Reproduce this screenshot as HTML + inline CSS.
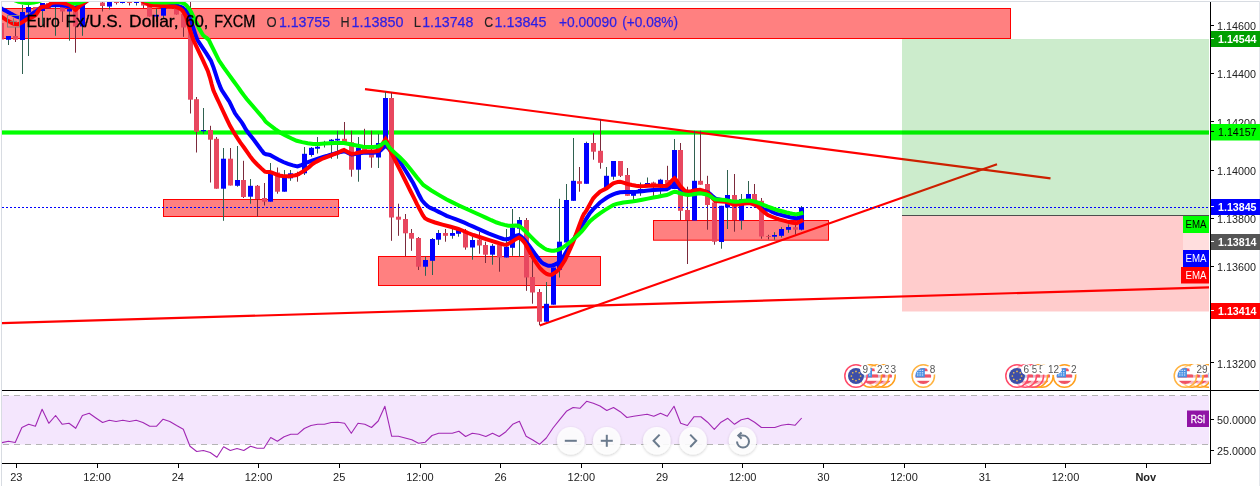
<!DOCTYPE html>
<html lang="en"><head><meta charset="utf-8"><title>EURUSD chart</title>
<style>html,body{margin:0;padding:0;background:#fff;}body{width:1260px;height:486px;overflow:hidden;}svg{display:block;}text{font-family:"Liberation Sans", Arial, sans-serif;}</style></head><body>
<svg width="1260" height="486" viewBox="0 0 1260 486">
<defs>
<clipPath id="pane"><rect x="2" y="2" width="1207" height="388"/></clipPath>
<clipPath id="rsip"><rect x="2" y="391" width="1207" height="72"/></clipPath>
<clipPath id="fc"><circle cx="0" cy="0" r="8"/></clipPath>
<filter id="sh" x="-30%" y="-30%" width="160%" height="160%"><feGaussianBlur in="SourceAlpha" stdDeviation="1.6"/><feOffset dy="1"/><feComponentTransfer><feFuncA type="linear" slope="0.22"/></feComponentTransfer><feMerge><feMergeNode/><feMergeNode in="SourceGraphic"/></feMerge></filter>
<g id="us"><g clip-path="url(#fc)"><rect x="-8" y="-8" width="16" height="16" fill="#fff"/><rect x="-8" y="-8" width="16" height="3.2" fill="#ef5366"/><rect x="-8" y="-1.6" width="16" height="3.2" fill="#ef5366"/><rect x="-8" y="4.8" width="16" height="3.2" fill="#ef5366"/><rect x="-8" y="-8" width="9.5" height="9.4" fill="#4a90e2"/><g fill="#cfe3fa"><rect x="-6.3" y="-6.2" width="1.4" height="1.2"/><rect x="-3.9" y="-6.2" width="1.4" height="1.2"/><rect x="-1.5" y="-6.2" width="1.4" height="1.2"/><rect x="-6.3" y="-3.8" width="1.4" height="1.2"/><rect x="-3.9" y="-3.8" width="1.4" height="1.2"/><rect x="-1.5" y="-3.8" width="1.4" height="1.2"/><rect x="-6.3" y="-1.6" width="1.4" height="1.2"/><rect x="-3.9" y="-1.6" width="1.4" height="1.2"/><rect x="-1.5" y="-1.6" width="1.4" height="1.2"/></g></g></g>
<g id="eu"><circle cx="0" cy="0" r="8" fill="#3c4ea8"/><g fill="#f2c14e"><circle cx="4.60" cy="0.00" r="0.85"/><circle cx="3.25" cy="3.25" r="0.85"/><circle cx="0.00" cy="4.60" r="0.85"/><circle cx="-3.25" cy="3.25" r="0.85"/><circle cx="-4.60" cy="0.00" r="0.85"/><circle cx="-3.25" cy="-3.25" r="0.85"/><circle cx="-0.00" cy="-4.60" r="0.85"/><circle cx="3.25" cy="-3.25" r="0.85"/></g></g>
</defs>
<rect x="0" y="0" width="1260" height="486" fill="#ffffff"/>
<g clip-path="url(#pane)">
<rect x="1.5" y="8.5" width="1009.0" height="30.0" fill="#ff8080" stroke="#ff0000" stroke-width="1"/>
<rect x="163.5" y="199.5" width="175.0" height="17.0" fill="#ff8080" stroke="#ff0000" stroke-width="1"/>
<rect x="378.5" y="256.5" width="222.0" height="29.0" fill="#ff8080" stroke="#ff0000" stroke-width="1"/>
<rect x="653.5" y="220.5" width="175.0" height="19.7" fill="#ff8080" stroke="#ff0000" stroke-width="1"/>
<rect x="2" y="130.4" width="1207" height="4.2" fill="#00ff00"/>
<line x1="365" y1="89.15" x2="1050.5" y2="178.4" stroke="#ff0000" stroke-width="2.1"/>
<line x1="0" y1="323.2" x2="1209" y2="287.4" stroke="#ff0000" stroke-width="2.1"/>
<line x1="539.7" y1="325.5" x2="997" y2="164.2" stroke="#ff0000" stroke-width="2.1"/>
<rect x="902" y="39" width="307" height="176" fill="#00a000" fill-opacity="0.2"/>
<rect x="902" y="215" width="307" height="96.5" fill="#ff0000" fill-opacity="0.2"/>
<rect x="902" y="215" width="307" height="1" fill="#4d4d4d"/>
<rect x="1" y="23.0" width="1" height="16.5" fill="#7b2a3b"/>
<rect x="-1" y="23.0" width="5" height="16.5" fill="#e8475f"/>
<rect x="8" y="36.0" width="1" height="9.0" fill="#2f6150"/>
<rect x="6" y="36.0" width="5" height="3.8" fill="#0000ff"/>
<rect x="15" y="27.0" width="1" height="15.0" fill="#7b2a3b"/>
<rect x="13" y="36.0" width="5" height="3.7" fill="#e8475f"/>
<rect x="22" y="5.0" width="1" height="69.0" fill="#2f6150"/>
<rect x="20" y="12.0" width="5" height="28.0" fill="#0000ff"/>
<rect x="28" y="4.0" width="1" height="52.0" fill="#2f6150"/>
<rect x="26" y="7.0" width="5" height="5.5" fill="#0000ff"/>
<rect x="35" y="7.0" width="1" height="3.7" fill="#7b2a3b"/>
<rect x="33" y="7.0" width="5" height="3.7" fill="#e8475f"/>
<rect x="42" y="3.0" width="1" height="22.0" fill="#2f6150"/>
<rect x="40" y="3.0" width="5" height="8.0" fill="#0000ff"/>
<rect x="48" y="3.0" width="1" height="5.0" fill="#7b2a3b"/>
<rect x="46" y="3.0" width="5" height="5.0" fill="#e8475f"/>
<rect x="55" y="2.0" width="1" height="33.8" fill="#2f6150"/>
<rect x="53" y="2.0" width="5" height="2.0" fill="#0000ff"/>
<rect x="62" y="5.0" width="1" height="17.0" fill="#7b2a3b"/>
<rect x="60" y="6.5" width="5" height="5.0" fill="#e8475f"/>
<rect x="69" y="8.0" width="1" height="32.7" fill="#2f6150"/>
<rect x="67" y="9.0" width="5" height="2.5" fill="#0000ff"/>
<rect x="75" y="8.0" width="1" height="44.7" fill="#7b2a3b"/>
<rect x="73" y="8.0" width="5" height="18.5" fill="#e8475f"/>
<rect x="82" y="3.0" width="1" height="32.8" fill="#2f6150"/>
<rect x="80" y="4.0" width="5" height="22.5" fill="#0000ff"/>
<rect x="102" y="2.0" width="1" height="9.5" fill="#7b2a3b"/>
<rect x="100" y="2.5" width="5" height="3.5" fill="#e8475f"/>
<rect x="109" y="2.0" width="1" height="7.5" fill="#2f6150"/>
<rect x="107" y="2.0" width="5" height="4.6" fill="#0000ff"/>
<rect x="116" y="2.0" width="1" height="2.5" fill="#7b2a3b"/>
<rect x="114" y="2.0" width="5" height="1.0" fill="#e8475f"/>
<rect x="122" y="2.0" width="1" height="1.5" fill="#2f6150"/>
<rect x="120" y="2.0" width="5" height="1.0" fill="#0000ff"/>
<rect x="129" y="2.0" width="1" height="3.5" fill="#7b2a3b"/>
<rect x="127" y="2.0" width="5" height="1.0" fill="#e8475f"/>
<rect x="136" y="2.0" width="1" height="3.5" fill="#2f6150"/>
<rect x="134" y="2.0" width="5" height="1.0" fill="#0000ff"/>
<rect x="143" y="2.0" width="1" height="6.0" fill="#7b2a3b"/>
<rect x="141" y="2.0" width="5" height="3.5" fill="#e8475f"/>
<rect x="149" y="4.0" width="1" height="12.5" fill="#7b2a3b"/>
<rect x="147" y="5.0" width="5" height="11.5" fill="#e8475f"/>
<rect x="156" y="8.7" width="1" height="13.3" fill="#2f6150"/>
<rect x="154" y="14.9" width="5" height="1.6" fill="#0000ff"/>
<rect x="163" y="7.0" width="1" height="11.0" fill="#2f6150"/>
<rect x="161" y="7.4" width="5" height="8.3" fill="#0000ff"/>
<rect x="169" y="7.4" width="1" height="1.1" fill="#7b2a3b"/>
<rect x="167" y="7.4" width="5" height="1.1" fill="#e8475f"/>
<rect x="176" y="8.0" width="1" height="6.5" fill="#7b2a3b"/>
<rect x="174" y="8.0" width="5" height="6.5" fill="#e8475f"/>
<rect x="183" y="14.0" width="1" height="22.8" fill="#7b2a3b"/>
<rect x="181" y="14.0" width="5" height="13.5" fill="#e8475f"/>
<rect x="190" y="2.0" width="1" height="111.5" fill="#7b2a3b"/>
<rect x="188" y="11.0" width="5" height="88.7" fill="#e8475f"/>
<rect x="196" y="97.0" width="1" height="55.5" fill="#7b2a3b"/>
<rect x="194" y="99.2" width="5" height="32.5" fill="#e8475f"/>
<rect x="203" y="108.0" width="1" height="25.7" fill="#2f6150"/>
<rect x="201" y="130.0" width="5" height="1.3" fill="#0000ff"/>
<rect x="210" y="125.8" width="1" height="56.7" fill="#7b2a3b"/>
<rect x="208" y="130.0" width="5" height="9.7" fill="#e8475f"/>
<rect x="216" y="137.0" width="1" height="51.7" fill="#7b2a3b"/>
<rect x="214" y="138.8" width="5" height="49.9" fill="#e8475f"/>
<rect x="223" y="148.0" width="1" height="72.8" fill="#2f6150"/>
<rect x="221" y="158.7" width="5" height="30.0" fill="#0000ff"/>
<rect x="230" y="148.0" width="1" height="37.5" fill="#7b2a3b"/>
<rect x="228" y="158.7" width="5" height="26.8" fill="#e8475f"/>
<rect x="237" y="146.0" width="1" height="40.7" fill="#2f6150"/>
<rect x="235" y="180.0" width="5" height="5.8" fill="#0000ff"/>
<rect x="243" y="160.8" width="1" height="37.2" fill="#7b2a3b"/>
<rect x="241" y="180.0" width="5" height="17.0" fill="#e8475f"/>
<rect x="250" y="179.0" width="1" height="24.7" fill="#2f6150"/>
<rect x="248" y="185.8" width="5" height="10.9" fill="#0000ff"/>
<rect x="257" y="185.0" width="1" height="31.7" fill="#7b2a3b"/>
<rect x="255" y="185.8" width="5" height="13.2" fill="#e8475f"/>
<rect x="264" y="183.0" width="1" height="22.5" fill="#7b2a3b"/>
<rect x="262" y="198.0" width="5" height="3.7" fill="#e8475f"/>
<rect x="270" y="163.0" width="1" height="38.7" fill="#2f6150"/>
<rect x="268" y="173.0" width="5" height="28.7" fill="#0000ff"/>
<rect x="277" y="167.5" width="1" height="26.2" fill="#7b2a3b"/>
<rect x="275" y="172.5" width="5" height="19.2" fill="#e8475f"/>
<rect x="284" y="170.0" width="1" height="21.7" fill="#2f6150"/>
<rect x="282" y="177.5" width="5" height="14.2" fill="#0000ff"/>
<rect x="290" y="170.0" width="1" height="10.8" fill="#2f6150"/>
<rect x="288" y="173.3" width="5" height="5.0" fill="#0000ff"/>
<rect x="297" y="171.7" width="1" height="10.0" fill="#7b2a3b"/>
<rect x="295" y="173.0" width="5" height="3.0" fill="#e8475f"/>
<rect x="304" y="147.0" width="1" height="28.0" fill="#2f6150"/>
<rect x="302" y="153.8" width="5" height="19.5" fill="#0000ff"/>
<rect x="311" y="147.0" width="1" height="9.7" fill="#2f6150"/>
<rect x="309" y="147.8" width="5" height="7.2" fill="#0000ff"/>
<rect x="317" y="137.0" width="1" height="16.5" fill="#2f6150"/>
<rect x="315" y="146.7" width="5" height="2.0" fill="#0000ff"/>
<rect x="324" y="140.8" width="1" height="6.7" fill="#2f6150"/>
<rect x="322" y="143.5" width="5" height="1.0" fill="#0000ff"/>
<rect x="331" y="139.0" width="1" height="19.7" fill="#2f6150"/>
<rect x="329" y="139.7" width="5" height="1.6" fill="#0000ff"/>
<rect x="337" y="130.8" width="1" height="27.9" fill="#2f6150"/>
<rect x="335" y="138.8" width="5" height="1.7" fill="#0000ff"/>
<rect x="344" y="122.0" width="1" height="20.0" fill="#7b2a3b"/>
<rect x="342" y="138.8" width="5" height="3.2" fill="#e8475f"/>
<rect x="351" y="130.8" width="1" height="45.9" fill="#7b2a3b"/>
<rect x="349" y="142.2" width="5" height="27.5" fill="#e8475f"/>
<rect x="358" y="137.0" width="1" height="44.7" fill="#2f6150"/>
<rect x="356" y="147.5" width="5" height="22.2" fill="#0000ff"/>
<rect x="364" y="128.8" width="1" height="23.2" fill="#7b2a3b"/>
<rect x="362" y="148.0" width="5" height="2.0" fill="#e8475f"/>
<rect x="371" y="130.8" width="1" height="37.0" fill="#7b2a3b"/>
<rect x="369" y="154.0" width="5" height="3.5" fill="#e8475f"/>
<rect x="378" y="134.0" width="1" height="34.0" fill="#2f6150"/>
<rect x="376" y="143.0" width="5" height="14.5" fill="#0000ff"/>
<rect x="385" y="91.7" width="1" height="51.3" fill="#2f6150"/>
<rect x="383" y="98.0" width="5" height="45.0" fill="#0000ff"/>
<rect x="391" y="92.5" width="1" height="148.3" fill="#7b2a3b"/>
<rect x="389" y="98.0" width="5" height="119.5" fill="#e8475f"/>
<rect x="398" y="203.7" width="1" height="32.1" fill="#7b2a3b"/>
<rect x="396" y="216.7" width="5" height="3.0" fill="#e8475f"/>
<rect x="405" y="214.0" width="1" height="42.0" fill="#7b2a3b"/>
<rect x="403" y="219.0" width="5" height="14.3" fill="#e8475f"/>
<rect x="411" y="229.0" width="1" height="21.8" fill="#7b2a3b"/>
<rect x="409" y="233.0" width="5" height="5.7" fill="#e8475f"/>
<rect x="418" y="237.0" width="1" height="33.0" fill="#7b2a3b"/>
<rect x="416" y="238.0" width="5" height="28.7" fill="#e8475f"/>
<rect x="425" y="256.7" width="1" height="19.1" fill="#2f6150"/>
<rect x="423" y="260.0" width="5" height="6.7" fill="#0000ff"/>
<rect x="432" y="238.0" width="1" height="37.0" fill="#2f6150"/>
<rect x="430" y="239.0" width="5" height="21.8" fill="#0000ff"/>
<rect x="438" y="230.0" width="1" height="15.0" fill="#2f6150"/>
<rect x="436" y="233.0" width="5" height="6.7" fill="#0000ff"/>
<rect x="445" y="229.0" width="1" height="12.7" fill="#7b2a3b"/>
<rect x="443" y="233.0" width="5" height="2.8" fill="#e8475f"/>
<rect x="452" y="226.7" width="1" height="12.0" fill="#2f6150"/>
<rect x="450" y="233.0" width="5" height="2.8" fill="#0000ff"/>
<rect x="458" y="229.0" width="1" height="7.7" fill="#2f6150"/>
<rect x="456" y="230.0" width="5" height="3.8" fill="#0000ff"/>
<rect x="465" y="229.0" width="1" height="20.7" fill="#7b2a3b"/>
<rect x="463" y="230.8" width="5" height="16.7" fill="#e8475f"/>
<rect x="472" y="236.7" width="1" height="23.0" fill="#2f6150"/>
<rect x="470" y="240.0" width="5" height="7.5" fill="#0000ff"/>
<rect x="479" y="231.7" width="1" height="22.0" fill="#7b2a3b"/>
<rect x="477" y="239.7" width="5" height="5.8" fill="#e8475f"/>
<rect x="485" y="241.7" width="1" height="21.3" fill="#7b2a3b"/>
<rect x="483" y="245.0" width="5" height="9.7" fill="#e8475f"/>
<rect x="492" y="244.0" width="1" height="20.7" fill="#2f6150"/>
<rect x="490" y="245.8" width="5" height="8.9" fill="#0000ff"/>
<rect x="499" y="243.0" width="1" height="28.7" fill="#7b2a3b"/>
<rect x="497" y="245.0" width="5" height="12.5" fill="#e8475f"/>
<rect x="506" y="229.0" width="1" height="28.5" fill="#2f6150"/>
<rect x="504" y="246.7" width="5" height="10.8" fill="#0000ff"/>
<rect x="512" y="209.0" width="1" height="46.8" fill="#2f6150"/>
<rect x="510" y="227.5" width="5" height="20.3" fill="#0000ff"/>
<rect x="519" y="217.0" width="1" height="39.7" fill="#2f6150"/>
<rect x="517" y="220.0" width="5" height="8.7" fill="#0000ff"/>
<rect x="526" y="218.0" width="1" height="72.8" fill="#7b2a3b"/>
<rect x="524" y="220.0" width="5" height="57.5" fill="#e8475f"/>
<rect x="532" y="257.5" width="1" height="46.2" fill="#7b2a3b"/>
<rect x="530" y="277.0" width="5" height="15.5" fill="#e8475f"/>
<rect x="539" y="289.0" width="1" height="36.0" fill="#7b2a3b"/>
<rect x="537" y="292.0" width="5" height="29.7" fill="#e8475f"/>
<rect x="546" y="282.0" width="1" height="39.7" fill="#2f6150"/>
<rect x="544" y="303.8" width="5" height="17.9" fill="#0000ff"/>
<rect x="553" y="267.5" width="1" height="37.2" fill="#2f6150"/>
<rect x="551" y="267.5" width="5" height="37.2" fill="#0000ff"/>
<rect x="559" y="198.8" width="1" height="78.7" fill="#2f6150"/>
<rect x="557" y="241.7" width="5" height="28.0" fill="#0000ff"/>
<rect x="566" y="184.0" width="1" height="58.5" fill="#2f6150"/>
<rect x="564" y="200.0" width="5" height="42.5" fill="#0000ff"/>
<rect x="573" y="138.0" width="1" height="62.8" fill="#2f6150"/>
<rect x="571" y="180.8" width="5" height="20.0" fill="#0000ff"/>
<rect x="579" y="167.0" width="1" height="24.7" fill="#7b2a3b"/>
<rect x="577" y="181.2" width="5" height="2.6" fill="#e8475f"/>
<rect x="586" y="141.7" width="1" height="42.1" fill="#2f6150"/>
<rect x="584" y="143.0" width="5" height="40.8" fill="#0000ff"/>
<rect x="593" y="133.0" width="1" height="26.7" fill="#7b2a3b"/>
<rect x="591" y="143.0" width="5" height="8.7" fill="#e8475f"/>
<rect x="600" y="119.0" width="1" height="49.7" fill="#7b2a3b"/>
<rect x="598" y="150.8" width="5" height="12.0" fill="#e8475f"/>
<rect x="606" y="167.0" width="1" height="21.3" fill="#2f6150"/>
<rect x="604" y="175.8" width="5" height="12.5" fill="#0000ff"/>
<rect x="613" y="161.0" width="1" height="18.7" fill="#2f6150"/>
<rect x="611" y="161.0" width="5" height="15.7" fill="#0000ff"/>
<rect x="620" y="161.0" width="1" height="16.0" fill="#7b2a3b"/>
<rect x="618" y="161.0" width="5" height="14.8" fill="#e8475f"/>
<rect x="627" y="168.0" width="1" height="27.8" fill="#7b2a3b"/>
<rect x="625" y="175.0" width="5" height="20.8" fill="#e8475f"/>
<rect x="633" y="190.0" width="1" height="10.0" fill="#2f6150"/>
<rect x="631" y="190.0" width="5" height="5.8" fill="#0000ff"/>
<rect x="640" y="182.5" width="1" height="13.3" fill="#2f6150"/>
<rect x="638" y="189.0" width="5" height="3.0" fill="#0000ff"/>
<rect x="647" y="177.5" width="1" height="8.0" fill="#2f6150"/>
<rect x="645" y="183.0" width="5" height="2.5" fill="#0000ff"/>
<rect x="653" y="181.7" width="1" height="15.0" fill="#7b2a3b"/>
<rect x="651" y="182.5" width="5" height="3.5" fill="#e8475f"/>
<rect x="660" y="178.8" width="1" height="15.9" fill="#2f6150"/>
<rect x="658" y="179.7" width="5" height="6.3" fill="#0000ff"/>
<rect x="667" y="165.8" width="1" height="22.2" fill="#7b2a3b"/>
<rect x="665" y="180.0" width="5" height="8.0" fill="#e8475f"/>
<rect x="674" y="139.0" width="1" height="50.0" fill="#2f6150"/>
<rect x="672" y="150.0" width="5" height="39.0" fill="#0000ff"/>
<rect x="680" y="143.0" width="1" height="77.0" fill="#7b2a3b"/>
<rect x="678" y="150.0" width="5" height="60.8" fill="#e8475f"/>
<rect x="687" y="186.7" width="1" height="77.3" fill="#7b2a3b"/>
<rect x="685" y="210.0" width="5" height="10.0" fill="#e8475f"/>
<rect x="694" y="130.8" width="1" height="89.7" fill="#2f6150"/>
<rect x="692" y="180.8" width="5" height="39.7" fill="#0000ff"/>
<rect x="700" y="130.8" width="1" height="53.9" fill="#7b2a3b"/>
<rect x="698" y="180.8" width="5" height="3.9" fill="#e8475f"/>
<rect x="707" y="175.8" width="1" height="53.9" fill="#7b2a3b"/>
<rect x="705" y="184.0" width="5" height="21.0" fill="#e8475f"/>
<rect x="714" y="202.0" width="1" height="42.7" fill="#7b2a3b"/>
<rect x="712" y="202.5" width="5" height="39.2" fill="#e8475f"/>
<rect x="721" y="205.8" width="1" height="42.9" fill="#2f6150"/>
<rect x="719" y="205.8" width="5" height="36.2" fill="#0000ff"/>
<rect x="727" y="170.0" width="1" height="59.0" fill="#2f6150"/>
<rect x="725" y="195.0" width="5" height="12.5" fill="#0000ff"/>
<rect x="734" y="174.0" width="1" height="57.7" fill="#7b2a3b"/>
<rect x="732" y="195.0" width="5" height="25.0" fill="#e8475f"/>
<rect x="741" y="194.0" width="1" height="35.7" fill="#2f6150"/>
<rect x="739" y="199.0" width="5" height="21.5" fill="#0000ff"/>
<rect x="748" y="181.0" width="1" height="19.0" fill="#2f6150"/>
<rect x="746" y="194.0" width="5" height="6.0" fill="#0000ff"/>
<rect x="754" y="184.0" width="1" height="22.0" fill="#7b2a3b"/>
<rect x="752" y="194.0" width="5" height="12.0" fill="#e8475f"/>
<rect x="761" y="198.0" width="1" height="40.7" fill="#7b2a3b"/>
<rect x="759" y="200.8" width="5" height="35.7" fill="#e8475f"/>
<rect x="768" y="234.8" width="1" height="4.6" fill="#7b2a3b"/>
<rect x="766" y="236.0" width="5" height="1.0" fill="#e8475f"/>
<rect x="774" y="232.2" width="1" height="7.5" fill="#2f6150"/>
<rect x="772" y="235.0" width="5" height="1.7" fill="#0000ff"/>
<rect x="781" y="227.2" width="1" height="10.3" fill="#2f6150"/>
<rect x="779" y="229.0" width="5" height="6.8" fill="#0000ff"/>
<rect x="788" y="224.4" width="1" height="8.4" fill="#2f6150"/>
<rect x="786" y="227.0" width="5" height="2.8" fill="#0000ff"/>
<rect x="795" y="225.0" width="1" height="9.4" fill="#7b2a3b"/>
<rect x="793" y="227.2" width="5" height="2.5" fill="#e8475f"/>
<rect x="801" y="206.0" width="1" height="24.5" fill="#2f6150"/>
<rect x="799" y="207.4" width="5" height="22.3" fill="#0000ff"/>
<line x1="2" y1="207.5" x2="1209" y2="207.5" stroke="#0000ff" stroke-width="1" stroke-dasharray="2 2"/>
<polyline points="0.0,7.8 0.6,8.1 1.3,8.4 2.2,8.9 4.1,9.9 6.2,11.1 8.3,12.2 10.2,13.3 12.1,14.3 13.9,15.3 15.4,16.0 16.8,16.6 18.3,17.2 20.1,17.6 22.1,17.9 24.0,18.0 26.0,17.3 28.1,16.4 30.0,15.5 31.1,14.7 32.1,13.9 33.0,13.2 34.0,12.6 35.0,12.1 36.0,11.5 36.9,10.8 37.7,10.2 38.5,9.5 39.3,8.9 40.1,8.3 41.0,7.8 42.0,7.4 43.0,7.1 44.0,6.8 45.2,6.6 46.5,6.4 47.8,6.2 48.9,5.9 49.9,5.5 51.0,5.2 52.6,5.2 54.3,5.2 56.0,5.2 57.9,5.2 59.9,5.2 62.0,5.3 64.6,5.7 67.4,6.1 70.0,6.5 71.8,6.9 73.4,7.3 75.0,7.5 76.4,7.1 77.6,6.6 79.0,6.0 80.6,5.1 82.4,4.0 84.0,3.0 85.4,2.0 86.8,1.0 88.0,0.0 88.8,-0.7 89.4,-1.4 90.0,-2.0" fill="none" stroke="#0000ff" stroke-width="4.0" stroke-linejoin="miter" stroke-miterlimit="3" stroke-linecap="butt"/>
<polyline points="140.0,-2.0 141.1,-1.1 142.5,-0.0 144.0,1.0 145.9,1.7 147.8,2.4 150.0,3.0 153.2,3.5 156.6,4.0 160.0,4.5 163.4,4.7 166.7,4.8 170.0,5.0 172.8,5.3 175.5,5.6 178.0,6.0 179.8,6.6 181.4,7.2 183.0,8.0 184.4,9.2 185.7,10.6 187.0,12.0 188.0,13.9 189.0,15.9 190.0,18.0 191.0,20.8 191.9,23.8 193.0,27.0 194.3,31.0 195.6,35.3 197.5,40.0 201.8,46.6 206.5,53.6 210.9,60.6 213.6,67.6 215.9,74.6 218.0,81.0 219.3,84.4 220.4,87.1 221.7,90.0 224.2,93.8 226.8,97.8 229.4,101.7 231.3,105.6 233.1,109.5 235.0,113.3 237.2,116.4 239.5,119.4 241.7,122.3 243.4,125.1 245.0,127.9 246.7,130.8 249.0,133.8 251.4,136.8 254.0,140.0 257.3,144.5 260.8,149.2 264.0,153.3 266.0,154.2 267.8,154.5 270.0,155.0 274.1,157.2 278.7,159.7 283.3,162.0 288.1,163.8 292.9,165.4 297.5,166.5 300.6,165.5 303.5,164.0 306.7,162.5 312.1,160.7 318.0,158.7 323.3,157.0 325.8,156.2 327.7,155.7 330.0,155.0 334.5,153.7 339.4,152.3 344.0,151.3 346.7,152.2 349.1,153.5 351.7,154.5 355.3,154.1 359.0,153.4 363.0,152.8 368.0,152.7 373.2,152.7 378.0,152.3 380.8,150.2 383.2,147.8 385.5,146.0 387.1,146.9 388.5,148.4 390.0,150.0 392.0,151.8 394.1,153.7 396.7,156.7 402.0,165.0 407.9,174.4 413.3,183.3 416.4,189.4 419.1,195.0 421.7,200.0 424.0,202.7 426.1,204.8 428.3,206.7 430.4,207.9 432.6,208.9 435.0,210.0 438.7,211.9 442.6,213.8 446.7,215.8 451.1,217.5 455.5,219.1 460.0,220.8 464.4,222.7 468.8,224.7 473.3,226.7 478.2,228.9 483.3,231.1 488.3,233.3 493.5,235.3 498.7,237.3 503.3,239.0 505.2,239.3 506.6,239.3 508.3,239.0 511.7,237.6 515.4,236.0 519.0,235.0 521.7,237.0 524.2,239.6 526.7,242.5 529.5,246.2 532.3,250.2 535.0,254.0 537.3,257.0 539.5,259.9 541.7,262.5 543.9,263.9 546.1,264.9 548.3,265.8 550.2,265.7 552.1,265.5 554.0,265.0 556.2,263.9 558.5,262.6 560.8,260.8 563.2,257.1 565.6,252.9 568.3,248.3 572.1,242.1 576.1,235.4 580.0,229.0 583.4,223.4 586.7,218.1 590.0,213.0 593.3,209.2 596.7,205.8 600.0,202.5 603.3,200.1 606.7,197.8 610.0,195.8 613.2,194.4 616.4,193.2 620.0,192.2 625.3,191.9 631.0,191.9 636.7,191.7 642.3,191.2 647.9,190.6 653.3,190.0 658.0,189.8 662.5,189.6 666.7,189.2 669.5,187.7 672.0,186.1 674.5,185.0 677.5,186.6 680.5,188.8 683.3,190.8 685.0,191.6 686.5,192.1 688.3,192.5 692.0,192.0 696.1,191.3 700.0,190.8 702.9,191.2 705.7,191.7 708.3,192.5 710.5,194.3 712.7,196.4 715.0,198.3 718.2,199.3 721.6,200.0 725.0,200.8 728.3,201.7 731.5,202.6 735.0,203.3 739.4,203.1 744.0,202.7 748.3,202.5 751.3,203.2 754.0,204.0 756.7,205.0 759.6,206.7 762.4,208.5 765.0,210.0 766.1,209.9 766.9,209.6 767.8,209.4 769.5,210.3 771.4,211.4 773.3,212.5 775.1,213.2 776.9,213.8 779.0,214.4 782.5,215.3 786.4,216.3 790.0,217.2 792.4,217.7 794.5,218.1 796.7,218.3 799.0,217.8 801.3,217.2 803.3,216.7" fill="none" stroke="#0000ff" stroke-width="4.0" stroke-linejoin="miter" stroke-miterlimit="3" stroke-linecap="butt"/>
<polyline points="0.0,16.0 0.6,16.3 1.3,16.7 2.2,17.2 4.1,18.4 6.2,19.8 8.3,21.1 10.2,22.1 12.1,23.1 13.9,23.9 15.4,24.1 16.9,24.2 18.3,24.2 19.6,23.6 20.9,22.9 22.2,22.2 23.7,21.3 25.2,20.3 26.7,19.4 28.2,18.8 29.6,18.4 31.1,17.8 32.6,17.0 34.1,16.0 35.6,15.0 36.8,13.4 37.9,11.6 38.9,10.0 39.7,8.9 40.3,8.0 41.1,7.2 42.2,7.0 43.3,6.8 44.4,6.7 45.5,6.5 46.7,6.4 47.8,6.1 48.9,5.2 50.0,4.2 51.1,3.3 52.1,2.9 53.2,2.7 54.4,2.5 56.5,2.5 58.8,2.6 61.1,2.8 63.1,3.1 64.9,3.5 66.7,3.9 67.9,4.3 69.0,4.7 70.0,5.2 71.0,5.9 72.0,6.7 73.0,7.5 73.9,8.4 74.7,9.3 75.5,10.0 76.3,9.4 77.1,8.4 78.0,7.5 79.0,6.7 80.0,5.8 81.0,5.0 82.0,4.3 83.0,3.7 84.0,3.0 85.0,2.4 86.0,1.7 87.0,1.0 88.1,-0.0 89.1,-1.1 90.0,-2.0" fill="none" stroke="#ff0000" stroke-width="4.0" stroke-linejoin="miter" stroke-miterlimit="3" stroke-linecap="butt"/>
<polyline points="138.0,-2.0 139.7,-0.8 141.8,0.6 143.8,2.0 145.7,3.1 147.6,4.1 149.6,5.0 152.2,5.4 155.0,5.6 157.8,5.8 160.5,5.9 163.3,5.9 166.0,6.0 168.9,6.2 171.7,6.4 174.4,6.6 176.2,7.1 177.8,7.7 179.3,8.3 180.5,9.0 181.5,9.8 182.6,10.7 183.7,12.5 184.9,14.4 186.0,16.5 186.8,19.2 187.6,22.0 188.4,24.8 189.3,27.6 190.1,30.3 191.0,33.0 191.6,34.9 192.2,36.8 193.4,40.0 197.9,49.6 203.1,60.6 207.8,70.9 210.0,77.8 211.6,84.1 213.3,90.0 215.1,94.2 216.9,98.1 219.0,102.5 222.5,110.0 226.3,118.2 230.0,125.8 233.0,131.0 235.9,135.7 238.6,140.0 240.4,142.6 242.1,144.9 244.0,147.5 246.9,151.7 250.0,156.1 253.3,160.5 257.2,164.5 261.3,168.4 265.0,171.7 266.8,172.1 268.3,172.0 270.0,172.0 273.2,173.2 276.6,174.6 280.0,175.8 282.8,176.1 285.6,176.3 288.3,176.3 291.1,176.0 293.8,175.6 296.7,175.0 300.0,173.2 303.5,171.1 306.7,169.0 309.0,167.1 311.1,165.3 313.3,163.5 316.0,161.9 318.9,160.4 321.7,159.0 324.5,157.9 327.2,156.8 330.0,155.8 332.8,154.7 335.6,153.6 338.3,152.5 340.3,151.5 342.1,150.6 344.0,150.0 346.4,151.2 349.0,152.8 351.7,154.0 355.4,153.4 359.2,152.5 363.3,151.7 368.3,151.6 373.5,151.5 378.3,150.8 381.1,146.9 383.4,142.4 385.5,139.0 386.8,141.2 387.9,144.6 389.0,148.0 390.3,150.6 391.6,153.3 393.3,156.7 397.0,164.0 401.1,172.2 405.0,180.0 407.9,185.9 410.7,191.5 413.3,196.7 415.3,200.7 417.1,204.4 419.0,208.0 420.9,211.6 422.8,215.1 425.0,218.3 427.9,219.9 431.1,221.1 435.0,222.5 442.4,224.6 450.6,226.8 458.3,229.0 463.5,231.0 468.1,233.0 473.3,235.0 481.0,237.5 489.2,240.2 496.7,242.5 500.5,243.6 503.5,244.4 506.7,244.7 510.8,242.4 515.1,239.6 519.0,237.5 521.2,238.8 523.0,240.8 525.0,243.3 527.7,248.1 530.5,253.3 533.3,258.3 535.6,261.9 537.8,265.2 540.0,268.3 542.3,270.5 544.5,272.4 546.7,274.0 548.4,274.5 550.0,274.8 551.7,274.7 553.8,273.4 556.1,271.9 558.3,270.0 560.5,267.0 562.7,263.7 565.0,260.0 567.7,254.3 570.5,248.2 573.3,241.7 576.4,233.3 579.6,224.5 582.5,216.7 584.0,213.9 585.3,212.1 586.7,210.0 588.8,206.2 591.1,202.1 593.3,198.3 595.5,195.9 597.8,193.7 600.0,191.7 602.2,190.5 604.5,189.4 606.7,188.3 608.9,186.6 611.1,184.9 613.3,183.3 615.5,182.6 617.7,182.0 620.0,181.7 622.6,182.4 625.4,183.3 628.3,184.2 632.0,185.0 636.0,185.7 640.0,186.3 644.4,186.1 648.8,185.8 653.3,185.5 657.9,185.7 662.4,186.0 666.7,185.8 669.6,183.3 672.1,180.4 674.5,178.3 676.4,180.3 678.2,183.1 680.0,185.8 682.1,188.0 684.2,190.1 686.7,191.7 691.0,191.2 695.6,190.3 700.0,189.7 703.0,190.6 705.7,191.9 708.3,193.3 710.5,195.8 712.7,198.5 715.0,200.8 718.2,201.3 721.6,201.4 725.0,201.7 728.3,202.7 731.5,203.8 735.0,204.7 739.6,204.2 744.5,203.5 749.0,203.0 751.8,203.6 754.3,204.5 756.7,205.5 758.6,207.1 760.4,208.8 762.2,210.5 764.0,212.0 765.7,213.5 767.8,215.0 771.3,216.5 775.2,218.0 779.0,219.4 782.8,220.4 786.5,221.4 790.0,222.2 792.4,222.7 794.5,223.1 796.7,223.3 799.0,222.3 801.3,221.1 803.3,220.0" fill="none" stroke="#ff0000" stroke-width="4.0" stroke-linejoin="miter" stroke-miterlimit="3" stroke-linecap="butt"/>
<polyline points="10.0,-2.0 10.9,-1.5 11.9,-0.9 13.0,-0.3 14.3,0.2 15.6,0.7 17.0,1.2 18.6,1.7 20.3,2.1 22.0,2.5 24.0,2.7 26.0,2.9 28.0,3.0 30.0,2.9 32.0,2.7 34.0,2.5 35.7,2.1 37.4,1.7 39.0,1.2 40.2,0.7 41.4,0.2 42.5,-0.3 43.7,-0.9 45.0,-1.5 46.0,-2.0" fill="none" stroke="#00ff00" stroke-width="4.0" stroke-linejoin="miter" stroke-miterlimit="3" stroke-linecap="butt"/>
<polyline points="63.0,-1.6 64.2,-1.1 65.6,-0.5 67.2,0.2 69.8,1.4 72.6,2.8 75.5,3.7 79.3,2.8 83.2,1.4 86.7,0.2 88.2,-0.4 89.2,-0.8 90.0,-1.2" fill="none" stroke="#00ff00" stroke-width="4.0" stroke-linejoin="miter" stroke-miterlimit="3" stroke-linecap="butt"/>
<polyline points="141.0,-2.0 142.1,-1.2 143.4,-0.4 145.0,0.5 147.7,1.1 150.6,1.7 153.7,2.2 157.7,2.3 161.8,2.4 166.0,2.4 170.3,2.3 174.6,2.2 178.5,2.2 180.3,2.4 181.7,2.7 183.0,3.0 184.2,3.7 185.4,4.6 186.5,5.5 187.7,6.9 188.8,8.3 190.0,10.0 191.3,12.5 192.6,15.2 194.0,18.0 195.7,21.5 197.5,25.1 199.2,28.5 200.6,31.0 201.9,33.3 203.3,35.5 205.0,36.8 206.8,38.0 208.8,40.0 211.9,46.3 215.4,53.4 219.0,60.6 223.8,67.6 228.9,74.6 233.5,81.0 236.0,84.4 238.0,87.2 240.0,90.0 242.0,92.8 244.1,95.6 246.7,99.0 252.1,105.3 258.1,112.2 263.3,118.3 264.6,120.1 265.2,121.0 266.4,122.3 270.5,125.5 275.2,129.1 280.0,132.5 285.5,135.4 291.1,138.3 296.7,140.8 302.2,142.1 307.8,143.2 313.3,144.0 318.9,143.9 324.5,143.6 330.0,143.3 334.7,143.1 339.2,142.9 344.0,143.0 350.2,144.2 356.7,145.5 363.0,146.7 368.3,146.9 373.4,146.9 378.0,146.6 380.8,145.0 383.2,143.2 385.5,142.0 386.9,143.6 388.2,145.7 390.0,148.3 394.6,152.6 399.7,157.3 405.0,162.5 410.9,169.8 417.0,177.6 423.3,185.0 431.0,190.2 439.1,195.1 446.7,199.5 452.5,202.4 457.9,205.0 463.3,207.5 468.9,210.0 474.4,212.5 480.0,215.0 485.7,217.6 491.3,220.2 496.7,222.5 500.8,223.8 504.6,224.9 508.3,225.8 512.0,225.8 515.6,225.6 519.0,225.8 521.6,227.7 524.0,230.0 526.7,232.5 530.5,236.3 534.5,240.3 538.3,244.0 541.2,246.2 544.0,248.1 546.7,249.7 549.2,250.3 551.6,250.7 554.0,250.8 556.5,250.2 559.0,249.4 561.7,248.3 564.9,246.0 568.3,243.5 571.7,240.8 575.1,237.8 578.4,234.7 581.7,231.5 584.5,228.1 587.2,224.6 590.0,221.2 593.2,218.5 596.5,215.9 600.0,213.3 604.4,210.4 608.9,207.6 613.3,205.0 616.7,203.9 619.9,203.2 623.3,202.5 627.6,201.9 632.1,201.4 636.7,200.8 642.2,199.7 647.8,198.6 653.3,197.5 658.0,196.7 662.5,195.8 666.7,195.0 669.6,193.8 672.1,192.6 674.5,191.7 676.4,192.0 678.1,192.7 680.0,193.3 682.6,193.9 685.4,194.6 688.3,195.0 692.1,194.5 696.2,193.8 700.0,193.3 702.9,193.7 705.7,194.3 708.3,195.0 710.5,196.4 712.7,197.9 715.0,199.2 718.2,199.6 721.6,199.8 725.0,200.0 728.3,200.6 731.5,201.2 735.0,201.7 739.6,201.4 744.5,200.8 749.0,200.5 751.7,200.9 754.1,201.5 756.7,202.2 760.3,203.6 764.0,205.2 767.8,206.7 771.5,208.0 775.3,209.3 779.0,210.5 782.8,211.5 786.5,212.5 790.0,213.3 792.4,213.7 794.5,214.0 796.7,214.2 799.0,213.8 801.3,213.3 803.3,212.8" fill="none" stroke="#00ff00" stroke-width="4.0" stroke-linejoin="miter" stroke-miterlimit="3" stroke-linecap="butt"/>
<line x1="902" y1="207.5" x2="1209" y2="207.5" stroke="#0000ff" stroke-width="1" stroke-dasharray="2 2" stroke-dashoffset="0"/>
<g transform="translate(1208.0,376)">
<circle cx="0" cy="0" r="11.2" fill="#ffffff" fill-opacity="0.55" stroke="#ff9f1c" stroke-width="1.5"/>
<use href="#us"/>
</g>
<g transform="translate(1200.0,376)">
<circle cx="0" cy="0" r="11.2" fill="#ffffff" fill-opacity="0.55" stroke="#ff9f1c" stroke-width="1.5"/>
<use href="#us"/>
</g>
<g transform="translate(1192.0,376)">
<circle cx="0" cy="0" r="11.2" fill="#ffffff" fill-opacity="0.55" stroke="#ff9f1c" stroke-width="1.5"/>
<use href="#us"/>
</g>
<g transform="translate(1185.4,376)">
<circle cx="0" cy="0" r="11.2" fill="#ffffff" fill-opacity="0.55" stroke="#ffb340" stroke-width="1.5"/>
<use href="#us"/>
</g>
<g transform="translate(1064.5,376)">
<circle cx="0" cy="0" r="11.2" fill="#ffffff" fill-opacity="0.55" stroke="#ff9f1c" stroke-width="1.5"/>
<use href="#us"/>
</g>
<g transform="translate(1042.0,376)">
<circle cx="0" cy="0" r="11.2" fill="#ffffff" fill-opacity="0.55" stroke="#ff9f1c" stroke-width="1.5"/>
<use href="#us"/>
</g>
<g transform="translate(1036.5,376)">
<circle cx="0" cy="0" r="11.2" fill="#ffffff" fill-opacity="0.55" stroke="#ff9f1c" stroke-width="1.5"/>
<use href="#us"/>
</g>
<g transform="translate(1032.4,376)">
<circle cx="0" cy="0" r="11.2" fill="#ffffff" fill-opacity="0.55" stroke="#ff4a68" stroke-width="1.5"/>
<use href="#us"/>
</g>
<g transform="translate(1025.3,376)">
<circle cx="0" cy="0" r="11.2" fill="#ffffff" fill-opacity="0.55" stroke="#ff4a68" stroke-width="1.5"/>
<use href="#us"/>
</g>
<g transform="translate(1017.0,376)">
<circle cx="0" cy="0" r="11.2" fill="#ffffff" fill-opacity="0.55" stroke="#ff4a68" stroke-width="1.5"/>
<use href="#eu"/>
</g>
<g transform="translate(923.3,376)">
<circle cx="0" cy="0" r="11.2" fill="#ffffff" fill-opacity="0.55" stroke="#ffb340" stroke-width="1.5"/>
<use href="#us"/>
</g>
<g transform="translate(884.0,376)">
<circle cx="0" cy="0" r="11.2" fill="#ffffff" fill-opacity="0.55" stroke="#ff9f1c" stroke-width="1.5"/>
<use href="#us"/>
</g>
<g transform="translate(877.7,376)">
<circle cx="0" cy="0" r="11.2" fill="#ffffff" fill-opacity="0.55" stroke="#ff9f1c" stroke-width="1.5"/>
<use href="#us"/>
</g>
<g transform="translate(870.5,376)">
<circle cx="0" cy="0" r="11.2" fill="#ffffff" fill-opacity="0.55" stroke="#ff9f1c" stroke-width="1.5"/>
<use href="#us"/>
</g>
<g transform="translate(856.0,376)">
<circle cx="0" cy="0" r="11.2" fill="#ffffff" fill-opacity="0.55" stroke="#ff4a68" stroke-width="1.5"/>
<use href="#eu"/>
</g>
<g transform="translate(856.0,376)">
<ellipse cx="9.3" cy="-6.6" rx="5.2" ry="5.5" fill="#ffffff"/>
<text x="9.3" y="-3.0" font-size="10" fill="#555555" text-anchor="middle">9</text>
</g>
<g transform="translate(870.5,376)">
<ellipse cx="9.3" cy="-6.6" rx="5.2" ry="5.5" fill="#ffffff"/>
<text x="9.3" y="-3.0" font-size="10" fill="#555555" text-anchor="middle">2</text>
</g>
<g transform="translate(877.7,376)">
<ellipse cx="9.3" cy="-6.6" rx="5.2" ry="5.5" fill="#ffffff"/>
<text x="9.3" y="-3.0" font-size="10" fill="#555555" text-anchor="middle">3</text>
</g>
<g transform="translate(884.0,376)">
<ellipse cx="9.3" cy="-6.6" rx="5.2" ry="5.5" fill="#ffffff"/>
<text x="9.3" y="-3.0" font-size="10" fill="#555555" text-anchor="middle">3</text>
</g>
<g transform="translate(923.3,376)">
<ellipse cx="9.3" cy="-6.6" rx="5.2" ry="5.5" fill="#ffffff"/>
<text x="9.3" y="-3.0" font-size="10" fill="#555555" text-anchor="middle">8</text>
</g>
<g transform="translate(1017.0,376)">
<ellipse cx="9.3" cy="-6.6" rx="5.2" ry="5.5" fill="#ffffff"/>
<text x="9.3" y="-3.0" font-size="10" fill="#555555" text-anchor="middle">6</text>
</g>
<g transform="translate(1025.3,376)">
<ellipse cx="9.3" cy="-6.6" rx="5.2" ry="5.5" fill="#ffffff"/>
<text x="9.3" y="-3.0" font-size="10" fill="#555555" text-anchor="middle">5</text>
</g>
<g transform="translate(1032.4,376)">
<ellipse cx="9.3" cy="-6.6" rx="5.2" ry="5.5" fill="#ffffff"/>
<text x="9.3" y="-3.0" font-size="10" fill="#555555" text-anchor="middle">5</text>
</g>
<g transform="translate(1036.5,376)">
<ellipse cx="9.5" cy="-6.6" rx="5.2" ry="5.5" fill="#ffffff"/>
</g>
<g transform="translate(1042.0,376)">
<ellipse cx="11.5" cy="-6.6" rx="8.2" ry="5.5" fill="#ffffff"/>
<text x="11.5" y="-3.0" font-size="10" fill="#555555" text-anchor="middle">12</text>
</g>
<g transform="translate(1064.5,376)">
<ellipse cx="9.3" cy="-6.6" rx="5.2" ry="5.5" fill="#ffffff"/>
<text x="9.3" y="-3.0" font-size="10" fill="#555555" text-anchor="middle">2</text>
</g>
<g transform="translate(1185.4,376)">
<ellipse cx="9.3" cy="-6.6" rx="5.2" ry="5.5" fill="#ffffff"/>
</g>
<g transform="translate(1192.0,376)">
<ellipse cx="10.0" cy="-6.6" rx="8.2" ry="5.5" fill="#ffffff"/>
<text x="10.0" y="-3.0" font-size="10" fill="#555555" text-anchor="middle">29</text>
</g>
<rect x="1183" y="233" width="26" height="17" fill="#ffffff" fill-opacity="0.35"/>
<rect x="1183" y="216" width="26" height="17" fill="#00ff00"/>
<text x="1196" y="227.6" font-size="11" fill="#000000" text-anchor="middle" textLength="21" lengthAdjust="spacingAndGlyphs">EMA</text>
<rect x="1183" y="250" width="26" height="17" fill="#0000ff"/>
<text x="1196" y="261.5" font-size="11" fill="#ffffff" text-anchor="middle" textLength="21" lengthAdjust="spacingAndGlyphs">EMA</text>
<rect x="1181" y="267" width="28" height="16.5" fill="#ff0000"/>
<text x="1196" y="278.8" font-size="11" fill="#ffffff" text-anchor="middle" textLength="21" lengthAdjust="spacingAndGlyphs">EMA</text>
</g>
<g clip-path="url(#rsip)">
<rect x="2" y="395.5" width="1207" height="49" fill="#f4e6fd"/>
<line x1="2" y1="395.5" x2="1209" y2="395.5" stroke="#b4b4b4" stroke-width="1" stroke-dasharray="6 5" stroke-dashoffset="-1"/>
<line x1="2" y1="444.5" x2="1209" y2="444.5" stroke="#b4b4b4" stroke-width="1" stroke-dasharray="6 5" stroke-dashoffset="-1"/>
<polyline points="1.8,442.7 8.5,441.3 15.2,442.5 21.9,427.5 28.7,424.3 35.4,426.3 42.1,409.3 48.8,423.3 55.6,415.5 62.3,424.3 69.0,423.3 75.7,428.3 82.4,415.5 89.2,413.3 95.9,418.0 102.6,422.5 109.3,420.3 116.1,421.5 122.8,420.3 129.5,421.5 136.2,420.3 142.9,422.5 149.7,426.3 156.4,426.3 163.1,419.2 169.8,421.5 176.6,425.5 183.3,429.2 190.0,446.3 196.7,451.5 203.4,450.5 210.2,452.5 216.9,457.2 223.6,446.7 230.3,450.5 237.0,448.5 243.8,450.5 250.5,446.3 257.2,448.3 263.9,448.3 270.7,437.5 277.4,441.3 284.1,436.8 290.8,434.3 297.5,434.3 304.3,428.5 311.0,425.5 317.7,424.3 324.4,424.3 331.2,422.5 337.9,422.3 344.6,423.3 351.3,433.3 358.0,423.3 364.8,424.3 371.5,427.5 378.2,421.0 384.9,406.3 391.7,436.3 398.4,436.3 405.1,438.0 411.8,439.7 418.5,443.3 425.3,442.2 432.0,435.5 438.7,433.3 445.4,433.3 452.2,433.3 458.9,431.3 465.6,436.5 472.3,433.3 479.0,434.3 485.8,436.5 492.5,433.3 499.2,436.5 505.9,431.7 512.7,424.3 519.4,421.3 526.1,436.3 532.8,440.0 539.5,444.3 546.3,438.0 553.0,428.0 559.7,419.7 566.4,411.3 573.1,407.5 579.9,408.3 586.6,401.3 593.3,403.3 600.0,406.0 606.8,410.5 613.5,407.5 620.2,411.7 626.9,417.5 633.6,416.3 640.4,415.2 647.1,414.2 653.8,416.3 660.5,413.3 667.3,416.3 674.0,406.3 680.7,423.3 687.4,425.5 694.1,416.7 700.9,416.7 707.6,422.2 714.3,429.3 721.0,422.2 727.8,418.3 734.5,424.3 741.2,419.7 747.9,418.3 754.6,422.2 761.4,427.5 768.1,427.5 774.8,427.5 781.5,425.3 788.3,424.2 795.0,425.3 801.7,418.0" fill="none" stroke="#a128b4" stroke-width="1.1" stroke-linejoin="round"/>
<rect x="1187" y="410.5" width="22" height="16.5" fill="#9013a5"/>
<text x="1198" y="422.6" font-size="10.5" fill="#ffffff" stroke="#ffffff" stroke-width="0.3" text-anchor="middle" textLength="14.5" lengthAdjust="spacingAndGlyphs">RSI</text>
</g>
<rect x="1" y="1" width="1258" height="1" fill="#d8dce2"/>
<rect x="1" y="1" width="1" height="485" fill="#d8dce2"/>
<rect x="1259" y="1" width="1" height="485" fill="#e4e7ec"/>
<rect x="1210" y="2" width="1" height="462" fill="#000000"/>
<rect x="2" y="390" width="1257" height="1" fill="#000000"/>
<rect x="2" y="463" width="1209" height="1" fill="#000000"/>
<rect x="1211" y="25" width="3" height="1" fill="#000000"/>
<text x="1217.1" y="30.1" font-size="11.2" fill="#222222" textLength="39" lengthAdjust="spacingAndGlyphs">1.14600</text>
<rect x="1211" y="73" width="3" height="1" fill="#000000"/>
<text x="1217.1" y="78.3" font-size="11.2" fill="#222222" textLength="39" lengthAdjust="spacingAndGlyphs">1.14400</text>
<rect x="1211" y="121" width="3" height="1" fill="#000000"/>
<text x="1217.1" y="126.5" font-size="11.2" fill="#222222" textLength="39" lengthAdjust="spacingAndGlyphs">1.14200</text>
<rect x="1211" y="170" width="3" height="1" fill="#000000"/>
<text x="1217.1" y="174.7" font-size="11.2" fill="#222222" textLength="39" lengthAdjust="spacingAndGlyphs">1.14000</text>
<rect x="1211" y="218" width="3" height="1" fill="#000000"/>
<text x="1217.1" y="223.0" font-size="11.2" fill="#222222" textLength="39" lengthAdjust="spacingAndGlyphs">1.13800</text>
<rect x="1211" y="266" width="3" height="1" fill="#000000"/>
<text x="1217.1" y="271.2" font-size="11.2" fill="#222222" textLength="39" lengthAdjust="spacingAndGlyphs">1.13600</text>
<rect x="1211" y="314" width="3" height="1" fill="#000000"/>
<text x="1217.1" y="319.4" font-size="11.2" fill="#222222" textLength="39" lengthAdjust="spacingAndGlyphs">1.13400</text>
<rect x="1211" y="362" width="3" height="1" fill="#000000"/>
<text x="1217.1" y="367.6" font-size="11.2" fill="#222222" textLength="39" lengthAdjust="spacingAndGlyphs">1.13200</text>
<rect x="1211" y="419" width="3" height="1" fill="#000000"/>
<text x="1217.1" y="424.1" font-size="11.2" fill="#222222" textLength="39" lengthAdjust="spacingAndGlyphs">50.0000</text>
<rect x="1211" y="450" width="3" height="1" fill="#000000"/>
<text x="1217.1" y="455.1" font-size="11.2" fill="#222222" textLength="39" lengthAdjust="spacingAndGlyphs">25.0000</text>
<rect x="1211" y="31.0" width="49" height="16.0" fill="#00a000"/>
<rect x="1211" y="38" width="3" height="1" fill="#ffffff"/>
<text x="1218" y="43.0" font-size="11" fill="#ffffff" font-weight="bold" textLength="38.5" lengthAdjust="spacingAndGlyphs">1.14544</text>
<rect x="1211" y="124.0" width="49" height="16.5" fill="#00ff00"/>
<rect x="1211" y="131" width="3" height="1" fill="#000000"/>
<text x="1218" y="136.2" font-size="11" fill="#000000"  textLength="38.5" lengthAdjust="spacingAndGlyphs">1.14157</text>
<rect x="1211" y="234.0" width="49" height="16.0" fill="#555555"/>
<rect x="1211" y="241" width="3" height="1" fill="#ffffff"/>
<text x="1218" y="246.0" font-size="11" fill="#ffffff" font-weight="bold" textLength="38.5" lengthAdjust="spacingAndGlyphs">1.13814</text>
<rect x="1211" y="199.0" width="49" height="16.0" fill="#0000ff"/>
<rect x="1211" y="206" width="3" height="1" fill="#ffffff"/>
<text x="1218" y="211.0" font-size="11" fill="#ffffff" font-weight="bold" textLength="38.5" lengthAdjust="spacingAndGlyphs">1.13845</text>
<rect x="1211" y="303.0" width="49" height="16.0" fill="#ff0000"/>
<rect x="1211" y="310" width="3" height="1" fill="#ffffff"/>
<text x="1218" y="315.0" font-size="11" fill="#ffffff" font-weight="bold" textLength="38.5" lengthAdjust="spacingAndGlyphs">1.13414</text>
<rect x="16.0" y="464" width="1" height="4" fill="#000000"/>
<text x="16.3" y="481" font-size="11" fill="#222222" text-anchor="middle" >23</text>
<rect x="97.0" y="464" width="1" height="4" fill="#000000"/>
<text x="97.1" y="481" font-size="11" fill="#222222" text-anchor="middle" >12:00</text>
<rect x="178.0" y="464" width="1" height="4" fill="#000000"/>
<text x="177.8" y="481" font-size="11" fill="#222222" text-anchor="middle" >24</text>
<rect x="258.0" y="464" width="1" height="4" fill="#000000"/>
<text x="258.5" y="481" font-size="11" fill="#222222" text-anchor="middle" >12:00</text>
<rect x="339.0" y="464" width="1" height="4" fill="#000000"/>
<text x="339.2" y="481" font-size="11" fill="#222222" text-anchor="middle" >25</text>
<rect x="420.0" y="464" width="1" height="4" fill="#000000"/>
<text x="419.9" y="481" font-size="11" fill="#222222" text-anchor="middle" >12:00</text>
<rect x="500.0" y="464" width="1" height="4" fill="#000000"/>
<text x="500.6" y="481" font-size="11" fill="#222222" text-anchor="middle" >26</text>
<rect x="581.0" y="464" width="1" height="4" fill="#000000"/>
<text x="581.3" y="481" font-size="11" fill="#222222" text-anchor="middle" >12:00</text>
<rect x="662.0" y="464" width="1" height="4" fill="#000000"/>
<text x="662.0" y="481" font-size="11" fill="#222222" text-anchor="middle" >29</text>
<rect x="742.0" y="464" width="1" height="4" fill="#000000"/>
<text x="742.7" y="481" font-size="11" fill="#222222" text-anchor="middle" >12:00</text>
<rect x="823.0" y="464" width="1" height="4" fill="#000000"/>
<text x="823.4" y="481" font-size="11" fill="#222222" text-anchor="middle" >30</text>
<rect x="904.0" y="464" width="1" height="4" fill="#000000"/>
<text x="904.1" y="481" font-size="11" fill="#222222" text-anchor="middle" >12:00</text>
<rect x="985.0" y="464" width="1" height="4" fill="#000000"/>
<text x="984.8" y="481" font-size="11" fill="#222222" text-anchor="middle" >31</text>
<rect x="1065.0" y="464" width="1" height="4" fill="#000000"/>
<text x="1065.5" y="481" font-size="11" fill="#222222" text-anchor="middle" >12:00</text>
<rect x="1146.0" y="464" width="1" height="4" fill="#000000"/>
<text x="1145.8" y="481" font-size="11" fill="#222222" text-anchor="middle" font-weight="bold">Nov</text>
<rect x="7.5" y="15.5" width="12" height="11.5" fill="none" stroke="#808080" stroke-width="1"/>
<rect x="10" y="20.8" width="7" height="1" fill="#808080"/><rect x="13" y="17.8" width="1" height="7" fill="#808080"/>
<text x="26.50" y="26.8" font-size="16.5" fill="#000000" stroke="#000000" stroke-width="0.30" textLength="33.41" lengthAdjust="spacingAndGlyphs">Euro</text>
<text x="65.59" y="26.8" font-size="16.5" fill="#000000" stroke="#000000" stroke-width="0.30" textLength="56.94" lengthAdjust="spacingAndGlyphs">Fx/U.S.</text>
<text x="129.06" y="26.8" font-size="16.5" fill="#000000" stroke="#000000" stroke-width="0.30" textLength="49.54" lengthAdjust="spacingAndGlyphs">Dollar,</text>
<text x="185.58" y="26.8" font-size="16.5" fill="#000000" stroke="#000000" stroke-width="0.30" textLength="22.71" lengthAdjust="spacingAndGlyphs">60,</text>
<text x="214.16" y="26.8" font-size="16.5" fill="#000000" stroke="#000000" stroke-width="0.30" textLength="41.25" lengthAdjust="spacingAndGlyphs">FXCM</text>
<text x="266.43" y="26.9" font-size="15.3" fill="#222222" stroke="#222222" stroke-width="0.10" textLength="10.14" lengthAdjust="spacingAndGlyphs">O</text>
<text x="278.89" y="26.9" font-size="15.3" fill="#2b1fe6" stroke="#2b1fe6" stroke-width="0.25" textLength="51.26" lengthAdjust="spacingAndGlyphs">1.13755</text>
<text x="340.48" y="26.9" font-size="15.3" fill="#222222" stroke="#222222" stroke-width="0.10" textLength="9.10" lengthAdjust="spacingAndGlyphs">H</text>
<text x="351.58" y="26.9" font-size="15.3" fill="#2b1fe6" stroke="#2b1fe6" stroke-width="0.25" textLength="51.94" lengthAdjust="spacingAndGlyphs">1.13850</text>
<text x="413.85" y="26.9" font-size="15.3" fill="#222222" stroke="#222222" stroke-width="0.10" textLength="7.31" lengthAdjust="spacingAndGlyphs">L</text>
<text x="422.18" y="26.9" font-size="15.3" fill="#2b1fe6" stroke="#2b1fe6" stroke-width="0.25" textLength="51.15" lengthAdjust="spacingAndGlyphs">1.13748</text>
<text x="484.36" y="26.9" font-size="15.3" fill="#222222" stroke="#222222" stroke-width="0.10" textLength="8.90" lengthAdjust="spacingAndGlyphs">C</text>
<text x="494.58" y="26.9" font-size="15.3" fill="#2b1fe6" stroke="#2b1fe6" stroke-width="0.25" textLength="51.88" lengthAdjust="spacingAndGlyphs">1.13845</text>
<text x="558.89" y="26.9" font-size="15.3" fill="#2b1fe6" stroke="#2b1fe6" stroke-width="0.25" textLength="58.08" lengthAdjust="spacingAndGlyphs">+0.00090</text>
<text x="622.24" y="26.9" font-size="15.3" fill="#2b1fe6" stroke="#2b1fe6" stroke-width="0.25" textLength="55.85" lengthAdjust="spacingAndGlyphs">(+0.08%)</text>
<g transform="translate(570.8,440.8)">
<circle cx="0" cy="0" r="13.8" fill="#ffffff" fill-opacity="0.88" filter="url(#sh)"/>
<rect x="-6" y="-1" width="12" height="2" fill="#6b7b8d"/>
</g>
<g transform="translate(606.8,440.8)">
<circle cx="0" cy="0" r="13.8" fill="#ffffff" fill-opacity="0.88" filter="url(#sh)"/>
<rect x="-6" y="-1" width="12" height="2" fill="#6b7b8d"/><rect x="-1" y="-6" width="2" height="12" fill="#6b7b8d"/>
</g>
<g transform="translate(656.8,440.8)">
<circle cx="0" cy="0" r="13.8" fill="#ffffff" fill-opacity="0.88" filter="url(#sh)"/>
<polyline points="2.8,-6.2 -3.2,0 2.8,6.2" fill="none" stroke="#6b7b8d" stroke-width="2"/>
</g>
<g transform="translate(693.0,440.8)">
<circle cx="0" cy="0" r="13.8" fill="#ffffff" fill-opacity="0.88" filter="url(#sh)"/>
<polyline points="-2.8,-6.2 3.2,0 -2.8,6.2" fill="none" stroke="#6b7b8d" stroke-width="2"/>
</g>
<g transform="translate(742.6,440.8)">
<circle cx="0" cy="0" r="13.8" fill="#ffffff" fill-opacity="0.88" filter="url(#sh)"/>
<g transform="translate(0.4,0.8)"><path d="M -4.7 -6 L 0 -6 A 6 6 0 1 1 -6 0" fill="none" stroke="#6b7b8d" stroke-width="2"/><polyline points="-1.4,-9.1 -4.7,-6 -1.4,-2.9" fill="none" stroke="#6b7b8d" stroke-width="2"/></g>
</g>
</svg></body></html>
